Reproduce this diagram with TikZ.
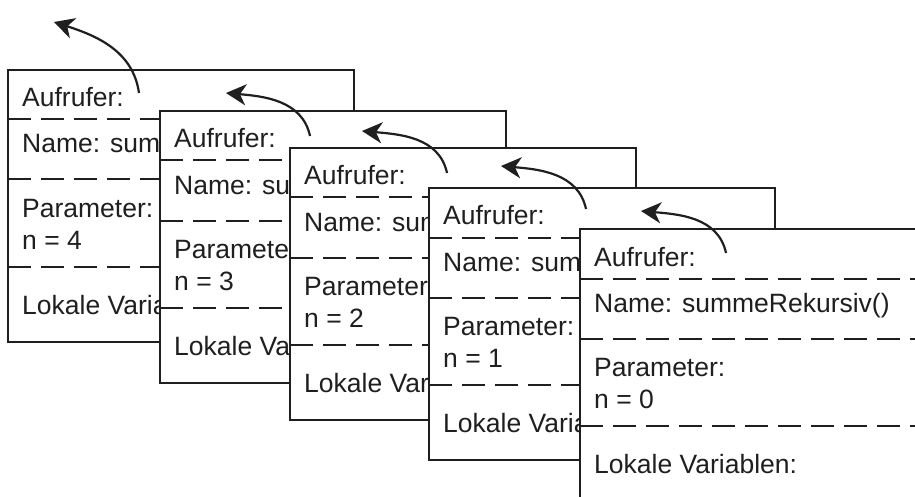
\documentclass[tikz,border=0pt]{standalone}
\usepackage{fontspec}
\setmainfont{Liberation Sans}
\usetikzlibrary{arrows.meta,calc}
\tikzset{
  framebox/.style={draw=black!88, fill=white, line width=2pt, minimum width=346pt,
    minimum height=272pt, anchor=north west, inner sep=0pt, outer sep=0pt},
  sep/.style={draw=black!88, line width=2pt, dash pattern=on 23pt off 10pt},
  lbl/.style={anchor=base west, inner sep=0pt, text=black!88,
    font=\fontsize{26.5}{30}\selectfont},
  callarrow/.style={draw=black!88, line width=2.2pt,
    -{Stealth[length=20pt,width=21pt,inset=6pt]}},
}
\newcommand{\stackframe}[3]{% name, position, n
  \node[framebox] (#1) at #2 {};
  \draw[sep] ($(#1.north west)+(0,49.5)$) -- ($(#1.north east)+(0,49.5)$);
  \draw[sep] ($(#1.north west)+(0,109.5)$) -- ($(#1.north east)+(0,109.5)$);
  \draw[sep] ($(#1.north west)+(0,197)$) -- ($(#1.north east)+(0,197)$);
  \node[lbl] (#1a) at ($(#1.north west)+(14,37)$) {Aufrufer:};
  \node[lbl] (#1b) at ($(#1.north west)+(14,83)$) {Name: summeRekursiv()};
  \node[lbl] (#1c) at ($(#1.north west)+(14,147.5)$) {Parameter:};
  \node[lbl] (#1d) at ($(#1.north west)+(14,179.5)$) {n = #3};
  \node[lbl] (#1e) at ($(#1.north west)+(14,244)$) {Lokale Variablen:};
}
\begin{document}
\begin{tikzpicture}[x=1pt,y=-1pt]
\useasboundingbox (0,0) rectangle (915,497);
\clip (0,0) rectangle (915,497);
\fill[white] (0,0) rectangle (915,497);

\stackframe{f1}{(8,70)}{4}
\coordinate (s1) at (139,93);
\coordinate (t1) at (54,22);
\draw[callarrow] (s1) to[out=98,in=-18] (t1);

\stackframe{f2}{(160,111)}{3}
\coordinate (s2) at (310,136);
\coordinate (t2) at (226,93);
\draw[callarrow] (s2) to[out=102,in=-5] (t2);

\stackframe{f3}{(290,148)}{2}
\coordinate (s3) at (447,173);
\coordinate (t3) at (362,131);
\draw[callarrow] (s3) to[out=102,in=-5] (t3);

\stackframe{f4}{(429,188)}{1}
\coordinate (s4) at (586,209);
\coordinate (t4) at (501,166);
\draw[callarrow] (s4) to[out=102,in=-5] (t4);

\stackframe{f5}{(580,229)}{0}
\coordinate (s5) at (726,253);
\coordinate (t5) at (641,211);
\draw[callarrow] (s5) to[out=102,in=-5] (t5);
\end{tikzpicture}
\end{document}
